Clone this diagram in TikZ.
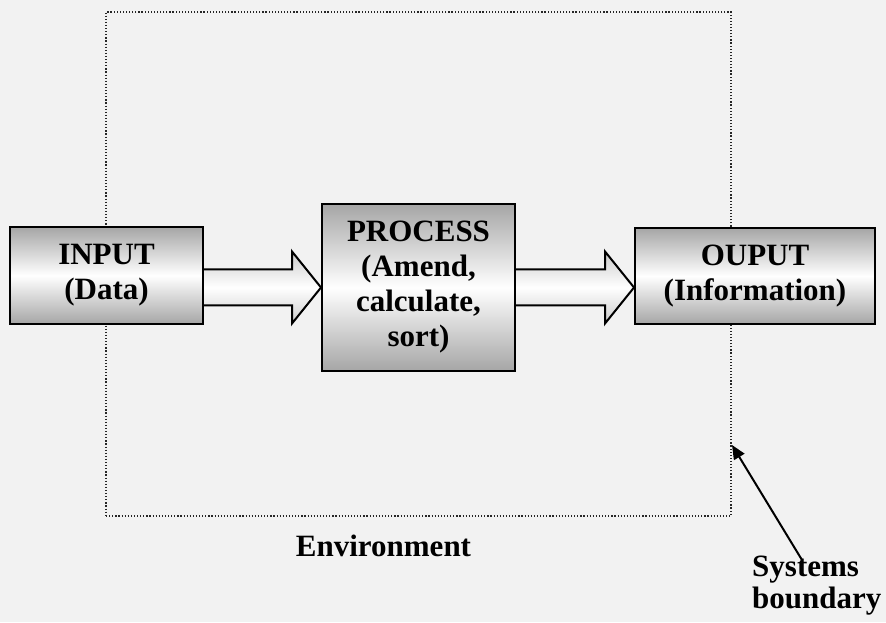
\documentclass[tikz,border=0pt]{standalone}
\usepackage{fontspec}
\setmainfont{Liberation Serif}
\usetikzlibrary{calc}
\usetikzlibrary{arrows.meta}

\definecolor{paper}{HTML}{F2F2F2}

% block arrow from one box to the next, at the height of the middle box
\newcommand{\blockarrow}[3]{%
    \draw[flow] ($(#1 |- #3)+(0,18)$) -- ($(#2 |- #3)+(-29,18)$)
        -- ($(#2 |- #3)+(-29,36)$) -- (#2 |- #3)
        -- ($(#2 |- #3)+(-29,-36)$) -- ($(#2 |- #3)+(-29,-18)$)
        -- ($(#1 |- #3)+(0,-18)$);
}

\begin{document}
\begin{tikzpicture}[x=1pt,y=1pt,
    font=\bfseries\fontsize{31}{35}\selectfont,
    box/.style={draw, line width=2pt, align=center, inner sep=0pt,
        top color=gray!70, bottom color=gray!70, middle color=white},
    flow/.style={line width=2pt, line join=miter,
        top color=gray!40, bottom color=gray!40, middle color=white}]

    % Background
    \fill[paper] (0,0) rectangle (886,622);
    \useasboundingbox (0,0) rectangle (886,622);

    % System boundary
    \node[draw=black!85, line width=1.3pt, dash pattern=on 1.2pt off 1.9pt,
        minimum width=625, minimum height=504, inner sep=0pt] (boundary) at (418.5,358) {};

    % Boxes
    \node[box, minimum width=193, minimum height=97] (input) at (106.5,346.5) {INPUT\\(Data)};
    \node[box, minimum width=193, minimum height=167] (process) at (418.5,334.5)
        {PROCESS\\(Amend,\\calculate,\\sort)};
    \node[box, minimum width=240, minimum height=96] (output) at (755,346) {OUPUT\\(Information)};

    % Arrows
    \blockarrow{input.east}{process.west}{process.west}
    \blockarrow{process.east}{output.west}{process.east}

    % Labels
    \node[anchor=base, inner sep=0pt] (env) at (383.5,66) {Environment};
    \node[anchor=north west, align=left, inner sep=0pt,
        font=\bfseries\fontsize{31}{32}\selectfont] (sysb) at (752,66) {Systems\\boundary};

    \coordinate (tail) at (802,62);
    \coordinate (tip) at (732,177);
    \draw[line width=2pt, -{Triangle[length=14pt,width=12pt]}] (tail) -- (tip);
\end{tikzpicture}
\end{document}
